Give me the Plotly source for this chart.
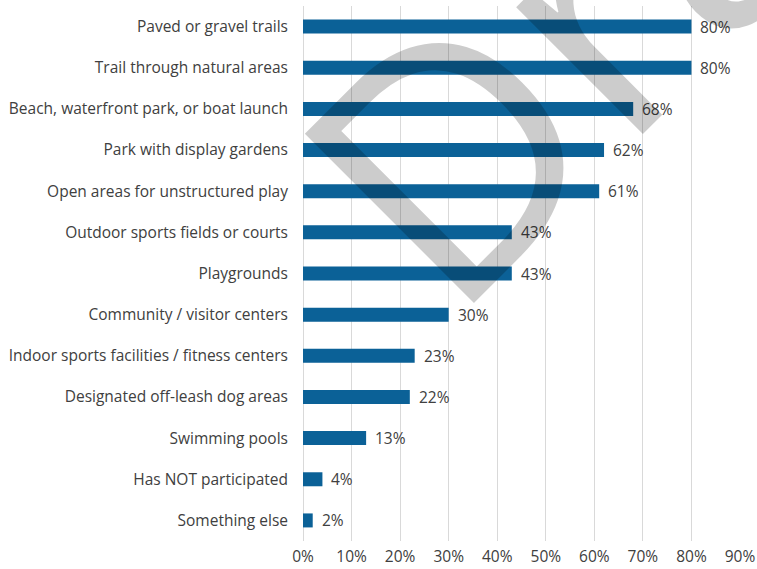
import plotly.graph_objects as go

# Amenities used, share of respondents (%)
categories = [
    "Paved or gravel trails",
    "Trail through natural areas",
    "Beach, waterfront park, or boat launch",
    "Park with display gardens",
    "Open areas for unstructured play",
    "Outdoor sports fields or courts",
    "Playgrounds",
    "Community / visitor centers",
    "Indoor sports facilities / fitness centers",
    "Designated off-leash dog areas",
    "Swimming pools",
    "Has NOT participated",
    "Something else",
]
values = [80, 80, 68, 62, 61, 43, 43, 30, 23, 22, 13, 4, 2]
tick_vals = [0, 10, 20, 30, 40, 50, 60, 70, 80, 90]
tick_text = [f"{v}%" for v in tick_vals]

BAR_COLOR = "#0b6197"
TEXT_COLOR = "#404040"
GRID_COLOR = "#d9d9d9"
FONT = "Open Sans"
FONT_SIZE = 15.5

fig = go.Figure(
    go.Bar(
        x=values,
        y=categories,
        orientation="h",
        marker=dict(color=BAR_COLOR, line=dict(width=0)),
        hoverinfo="skip",
    )
)

# value labels just past the end of each bar
for cat, val in zip(categories, values):
    fig.add_annotation(
        x=val, y=cat, xref="x", yref="y",
        text=f"{val}%", showarrow=False,
        xanchor="left", yanchor="middle", xshift=7,
        font=dict(family=FONT, size=FONT_SIZE, color=TEXT_COLOR),
    )

# diagonal "Draft" watermark over the chart
fig.add_annotation(
    x=0.7735, y=1.101, xref="paper", yref="paper",
    text="Draft", showarrow=False, textangle=-45,
    xanchor="center", yanchor="middle",
    font=dict(family=FONT, size=335, color="rgba(0,0,0,0.2)"),
)

fig.update_layout(
    width=757, height=569,
    margin=dict(l=303, r=17, t=6, b=28),
    paper_bgcolor="white", plot_bgcolor="white",
    bargap=0.66,
    showlegend=False,
    font=dict(family=FONT, size=FONT_SIZE, color=TEXT_COLOR),
    xaxis=dict(
        range=[0, 90], tickvals=tick_vals, ticktext=tick_text,
        showgrid=True, gridcolor=GRID_COLOR, gridwidth=1,
        zeroline=True, zerolinecolor=GRID_COLOR, zerolinewidth=1,
        showline=False, ticks="", fixedrange=True, automargin=False,
        tickfont=dict(family=FONT, size=FONT_SIZE, color=TEXT_COLOR),
        ticklabelstandoff=4,
    ),
    yaxis=dict(
        autorange="reversed", showgrid=False, showline=False, ticks="",
        tickfont=dict(family=FONT, size=FONT_SIZE, color=TEXT_COLOR),
        ticklabelstandoff=14, fixedrange=True, automargin=False,
    ),
)

fig.write_html("out.html")
